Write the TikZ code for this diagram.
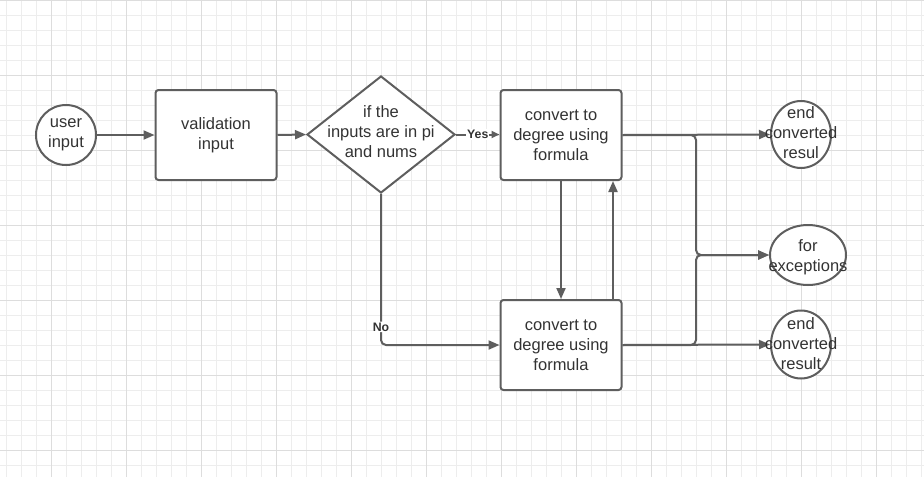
\documentclass[tikz,border=0pt]{standalone}
\usepackage{fontspec}
\setmainfont{Liberation Sans}
\usetikzlibrary{shapes.geometric,arrows.meta}
\definecolor{ln}{HTML}{5E5E5E}
\definecolor{tx}{HTML}{333333}
\definecolor{gminor}{HTML}{EDEDED}
\definecolor{gmajor}{HTML}{DDDDDD}
\begin{document}
\begin{tikzpicture}[x=1pt,y=-1pt,
  every node/.style={font=\fontsize{16.5}{20}\selectfont, text=tx},
  shp/.style={draw=ln, line width=2pt, fill=white},
  boxs/.style={shp, rectangle, rounded corners=3pt, minimum width=121pt, minimum height=90pt, inner sep=0pt, align=center},
  ovl/.style={shp, ellipse, inner sep=0pt},
  conn/.style={draw=ln, line width=2pt, -{Triangle[length=11pt,width=9pt]}},
  lbl/.style={font=\fontsize{12.3}{14}\bfseries\selectfont, fill=white, inner sep=1pt}
]
\fill[white] (0,0) rectangle (924,477);
\useasboundingbox (0,0) rectangle (924,477);
% grid
\foreach \k in {0,...,61} \draw[gminor, line width=0.8pt] ({6.7+15*\k},0) -- ({6.7+15*\k},477);
\foreach \k in {0,...,31} \draw[gminor, line width=0.8pt] (0,{15*\k}) -- (924,{15*\k});
\foreach \k in {0,...,12} \draw[gmajor, line width=0.8pt] ({51.7+75*\k},0) -- ({51.7+75*\k},477);
\foreach \k in {0,...,6} \draw[gmajor, line width=0.8pt] (0,{75*\k}) -- (924,{75*\k});

% nodes
\node[ovl, minimum width=60pt, minimum height=60pt] (user) at (66,135) {};
\node[align=center] at (user.center) {user\\input};
\node[boxs] (val) at (216,135) {validation\\input};
\node[shp, diamond, minimum width=148pt, minimum height=117pt, inner sep=0pt] (dia) at (381,134.5) {};
\node[align=center] at ([yshift=3pt]dia.center) {if the\\inputs are in pi\\and nums};
\node[boxs] (b1) at (561,135) {convert to\\degree using\\formula};
\node[boxs] (b2) at (561,345) {convert to\\degree using\\formula};
\node[ovl, minimum width=60pt, minimum height=67pt] (e1) at (801,134.5) {};
\node[ovl, minimum width=76pt, minimum height=60pt] (ex) at (808,255) {};
\node[ovl, minimum width=60pt, minimum height=68pt] (e3) at (801,344.5) {};
\coordinate (j) at (696,255);

% connectors
\draw[conn] (user.east) -- (val.west);
\draw[conn] (val.east) -- (dia.west);
\draw[conn, -{Triangle[length=8pt,width=7pt]}] (dia.east) -- node[lbl, pos=0.5]{Yes} (b1.west |- dia.east);
\draw[conn, rounded corners=5pt] (dia.south) |- node[lbl, pos=0.44]{No} (b2.west);
\draw[conn] (b1.south) -- (b2.north);
\draw[conn] ([xshift=52pt]b2.north) -- ([xshift=52pt]b1.south);
\draw[conn, rounded corners=5pt] (b1.east) -| (j) -- (ex.west);
\draw[conn, rounded corners=5pt] (b2.east) -| (j) -- (ex.west);
\draw[conn] (b1.east) -- (e1.west);
\draw[conn] (b2.east) -- (e3.west);

% ellipse texts on top
\node[align=center] at ([yshift=1.5pt]e1.center) {end\\converted\\resul};
\node[align=center] at ([yshift=-2pt]ex.center) {for\\exceptions};
\node[align=center] at ([yshift=1pt]e3.center) {end\\converted\\result};
\end{tikzpicture}
\end{document}
